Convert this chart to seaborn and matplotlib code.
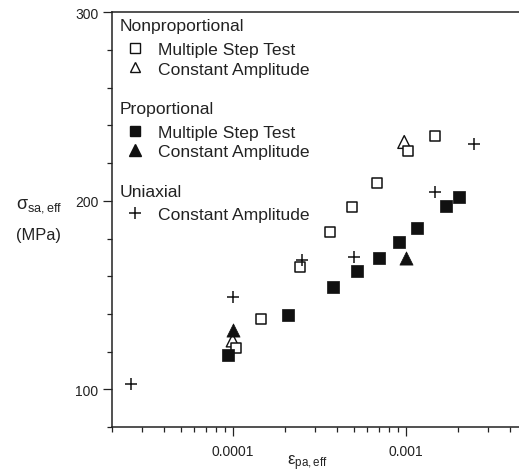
import numpy as np
import pandas as pd
import matplotlib
matplotlib.use("Agg")
import matplotlib.pyplot as plt
import seaborn as sns
from matplotlib.lines import Line2D
from matplotlib.legend import Legend
from matplotlib.ticker import LogLocator, FixedLocator, FixedFormatter, MultipleLocator, NullFormatter

# ---- data ----
np_ms_x = [1.05e-4, 1.45e-4, 2.46e-4, 3.66e-4, 4.9e-4, 6.8e-4, 1.03e-3, 1.48e-3]
np_ms_y = [121.9, 137.4, 165.0, 183.6, 196.8, 209.2, 226.5, 234.4]
np_ca_x = [1.0e-4, 0.98e-3]
np_ca_y = [125.9, 231.2]
p_ms_x = [0.94e-4, 2.08e-4, 3.78e-4, 5.26e-4, 6.99e-4, 9.2e-4, 1.16e-3, 1.71e-3, 2.02e-3]
p_ms_y = [118.3, 139.2, 154.3, 162.8, 169.7, 178.0, 185.4, 197.0, 201.9]
p_ca_x = [1.0e-4, 1.0e-3]
p_ca_y = [131.2, 169.5]
ua_x = [2.57e-5, 1.0e-4, 2.51e-4, 5.03e-4, 1.48e-3, 2.48e-3]
ua_y = [103.0, 148.9, 168.4, 170.4, 204.8, 230.3]

x_ticks = [1e-4, 1e-3]
x_tick_labels = ["0.0001", "0.001"]
y_ticks = [100, 200, 300]
y_tick_labels = ["100", "200", "300"]

sns.set_theme(style="ticks")
plt.rcParams["font.family"] = ["Liberation Sans", "DejaVu Sans"]
plt.rcParams["mathtext.fontset"] = "custom"
plt.rcParams["mathtext.rm"] = "Liberation Sans"
plt.rcParams["mathtext.it"] = "Liberation Sans"

TXT = "#222222"
W, H = 519, 477
fig = plt.figure(figsize=(W / 100, H / 100), dpi=100)
left_px, right_px, top_px, bottom_px = 111.7, 519.0, 13.3, 428.0
ax = fig.add_axes([left_px / W, 1 - bottom_px / H, (right_px - left_px) / W, (bottom_px - top_px) / H])

df_npms = pd.DataFrame({"x": np_ms_x, "y": np_ms_y})
df_npca = pd.DataFrame({"x": np_ca_x, "y": np_ca_y})
df_pms = pd.DataFrame({"x": p_ms_x, "y": p_ms_y})
df_pca = pd.DataFrame({"x": p_ca_x, "y": p_ca_y})
df_ua = pd.DataFrame({"x": ua_x, "y": ua_y})

sns.scatterplot(data=df_npca, x="x", y="y", ax=ax, marker="^", s=85,
                facecolor="none", edgecolor="#111111", linewidth=1.0, zorder=3)
sns.scatterplot(data=df_npms, x="x", y="y", ax=ax, marker="s", s=50,
                facecolor="white", edgecolor="#111111", linewidth=1.1, zorder=3)
sns.scatterplot(data=df_pms, x="x", y="y", ax=ax, marker="s", s=72,
                color="#111111", edgecolor="#111111", linewidth=0.5, zorder=4)
sns.scatterplot(data=df_pca, x="x", y="y", ax=ax, marker="^", s=90,
                color="#111111", edgecolor="#111111", linewidth=0.5, zorder=4)
sns.scatterplot(data=df_ua, x="x", y="y", ax=ax, marker="+", s=80,
                color="#111111", linewidth=1.1, zorder=5)

ax.set_xscale("log")
ax.set_xlim(2e-5, 1e-4 * 10 ** ((519 - 232.3) / 173.3))
ax.set_ylim(80, 300)

ax.xaxis.set_major_locator(FixedLocator(x_ticks))
ax.xaxis.set_major_formatter(FixedFormatter(x_tick_labels))
ax.xaxis.set_minor_locator(LogLocator(base=10, subs=np.arange(2, 10)))
ax.xaxis.set_minor_formatter(NullFormatter())
ax.yaxis.set_major_locator(FixedLocator(y_ticks))
ax.yaxis.set_major_formatter(FixedFormatter(y_tick_labels))
ax.yaxis.set_minor_locator(MultipleLocator(20))

ax.tick_params(which="major", direction="out", length=6.5, width=0.9, color="#222222",
               labelsize=10, labelcolor=TXT, pad=3)
ax.tick_params(axis="x", which="major", pad=6)
ax.tick_params(which="minor", direction="out", length=3.6, width=0.9, color="#222222")
ax.set_xlabel("")
ax.set_ylabel("")
for s in ["left", "bottom", "top"]:
    ax.spines[s].set_linewidth(1.1)
    ax.spines[s].set_color("#222222")
ax.spines["right"].set_visible(False)

# axis titles
fig.text(16 / W, 1 - 206 / H, r"$\mathregular{\sigma_{sa,eff}}$", fontsize=13,
         color=TXT, ha="left", va="center")
fig.text(16 / W, 1 - 236 / H, "(MPa)", fontsize=11.8, color=TXT, ha="left", va="center")
fig.text(287 / W, 1 - 463 / H, r"$\mathregular{\varepsilon_{pa,eff}}$", fontsize=12,
         color=TXT, ha="left", va="center")

# legends (group headers as text, entries as legends)
fs = 12.6
def mk(marker, face, size):
    return Line2D([], [], linestyle="none", marker=marker, markersize=size,
                  markerfacecolor=face, markeredgecolor="#111111", markeredgewidth=1.0)

groups = [
    ("Nonproportional", 31.5, [mk("s", "white", 6.5), mk("^", "white", 7)],
     ["Multiple Step Test", "Constant Amplitude"], 43.2),
    ("Proportional", 113.8, [mk("s", "#111111", 7), mk("^", "#111111", 8)],
     ["Multiple Step Test", "Constant Amplitude"], 125.6),
    ("Uniaxial", 197.5, [Line2D([], [], linestyle="none", marker="+", markersize=9,
                                color="#111111", markeredgewidth=1.1)],
     ["Constant Amplitude"], 207.8),
]
ax_h = bottom_px - top_px
ax_w = right_px - left_px
for title, ybase, handles, labels, ytop in groups:
    fig.text(120 / W, 1 - ybase / H, title, fontsize=fs, color=TXT,
             ha="left", va="baseline")
    leg = Legend(ax, handles, labels, loc="upper left",
                 bbox_to_anchor=((120 - left_px) / ax_w, 1 - (ytop - top_px) / ax_h),
                 bbox_transform=ax.transAxes,
                 frameon=False, borderpad=0, borderaxespad=0, fontsize=fs,
                 handlelength=1.75, handletextpad=0.4, labelspacing=0.22)
    for t in leg.get_texts():
        t.set_color(TXT)
    ax.add_artist(leg)

fig.savefig("out.png", dpi=100)
